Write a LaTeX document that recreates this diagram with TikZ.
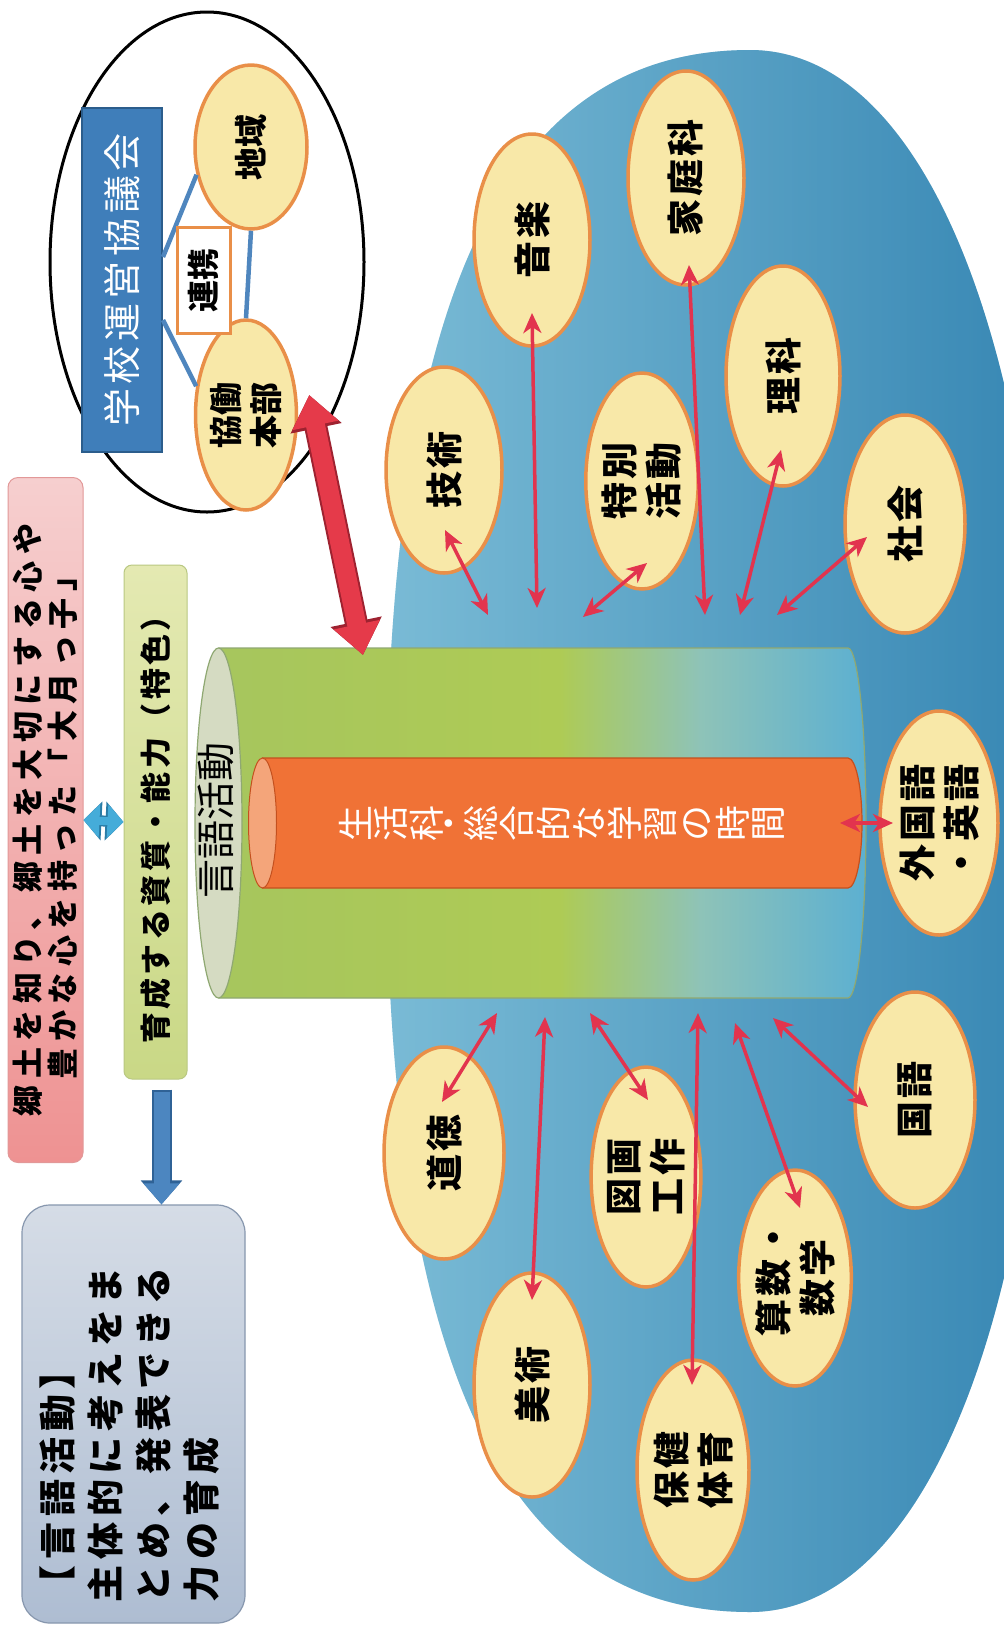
\documentclass[tikz,border=0pt]{standalone}
\usepackage{fontspec}
\newfontfamily\jp{Noto Sans CJK JP}
\usetikzlibrary{shapes.geometric,arrows.meta,calc}
\definecolor{bglight}{HTML}{9AD3E4}
\definecolor{bgdark}{HTML}{3282AF}
\definecolor{bgmid}{HTML}{3F8FBC}
\definecolor{ellF}{HTML}{F8E8A8}
\definecolor{ellD}{HTML}{E98F48}
\definecolor{linkR}{HTML}{E2344E}
\definecolor{bigF}{HTML}{E53A4A}
\definecolor{bigD}{HTML}{9E2230}
\definecolor{boxB}{HTML}{3F7EBA}
\definecolor{boxBD}{HTML}{2B5D8C}
\definecolor{lineB}{HTML}{4F86BE}
\definecolor{pinkL}{HTML}{F6CFCF}
\definecolor{pinkR}{HTML}{EE9292}
\definecolor{pinkD}{HTML}{E29898}
\definecolor{grnL}{HTML}{E4E9B2}
\definecolor{grnR}{HTML}{C9D886}
\definecolor{grnD}{HTML}{B9C882}
\definecolor{gryL}{HTML}{D5DCE6}
\definecolor{gryR}{HTML}{AEBDD2}
\definecolor{gryD}{HTML}{8797AE}
\definecolor{sbL}{HTML}{45ACD9}
\definecolor{sbD}{HTML}{2A7CA6}
\definecolor{dbL}{HTML}{4C86C0}
\definecolor{dbD}{HTML}{2F6296}
\definecolor{cg1}{HTML}{A6C55E}
\definecolor{cg2}{HTML}{AECB55}
\definecolor{cg3}{HTML}{8EC3B8}
\definecolor{cg4}{HTML}{58AED3}
\definecolor{cylD}{HTML}{8FA872}
\definecolor{capF}{HTML}{D5DBC2}
\definecolor{orF}{HTML}{F07236}
\definecolor{orD}{HTML}{C4501E}
\definecolor{orCap}{HTML}{F4A57A}
\begin{document}
\begin{tikzpicture}[x=1pt,y=-1pt,
  subj/.style={ellipse, draw=ellD, line width=3.5pt, fill=ellF, rotate=90, inner sep=0pt, align=center,
               font=\jp\bfseries\fontsize{37}{44}\selectfont\addfontfeatures{LetterSpace=8}},
  link/.style={draw=linkR, line width=3.5pt, {Stealth[length=20pt,width=18pt,inset=6pt]}-{Stealth[length=20pt,width=18pt,inset=6pt]}},
  panel/.style={rotate=90, align=center, inner sep=0pt},
  bline/.style={draw=lineB, line width=4.5pt},
  bigO/.style={draw=bigD, line width=23pt, {Triangle[length=34pt,width=50pt]}-{Triangle[length=34pt,width=50pt]}},
  bigI/.style={draw=bigF, line width=19pt, {Triangle[length=31pt,width=45pt]}-{Triangle[length=31pt,width=45pt]}},
  sbO/.style={draw=sbD, line width=11pt, {Triangle[length=18pt,width=38pt]}-{Triangle[length=18pt,width=38pt]}},
  sbI/.style={draw=sbL, line width=8pt, {Triangle[length=16pt,width=33pt]}-{Triangle[length=16pt,width=33pt]}},
  dbO/.style={draw=dbD, line width=20pt, -{Triangle[length=24pt,width=40pt]}},
  dbI/.style={draw=dbL, line width=16pt, -{Triangle[length=21pt,width=35pt]}},
  field/.style={insert path={(386,830) .. controls (386,300) and (502,50) .. (750,50)
     .. controls (930,50) and (1050,362) .. (1050,830)
     .. controls (1050,1299) and (930,1612) .. (750,1612)
     .. controls (502,1612) and (386,1362) .. (386,830) -- cycle}},
]
\useasboundingbox (0,0) rectangle (1004,1626);
\fill[white] (0,0) rectangle (1004,1626);

% blue field
\begin{scope}
\clip (0,0) rectangle (1004,1626);
\shade[left color=bglight, right color=bgdark, field];
\shade[top color=bgmid, middle color=bglight, bottom color=bgmid, fill opacity=0.35, field];
\end{scope}

% left panel
\node[panel, rounded corners=10pt, draw=pinkD, line width=1pt, top color=pinkL, bottom color=pinkR,
      minimum width=685pt, minimum height=75pt,
      font=\jp\bfseries\fontsize{31}{35}\selectfont\addfontfeatures{LetterSpace=21}] (goal) at (45.5,820)
  {郷土を知り、郷土を大切にする心や\\豊かな心を持った「大月っ子」};
\node[panel, rounded corners=8pt, draw=grnD, line width=1pt, top color=grnL, bottom color=grnR,
      minimum width=514pt, minimum height=63pt,
      font=\jp\bfseries\fontsize{31}{35}\selectfont\addfontfeatures{LetterSpace=11}] (ability) at (155.5,822)
  {育成する資質・能力（特色）};
\node[panel, rounded corners=28pt, draw=gryD, line width=1.2pt, top color=gryL, bottom color=gryR,
      minimum width=418pt, minimum height=223pt] (outcome) at (133.5,1414) {};
\node[panel, align=left, text width=376pt,
      font=\jp\bfseries\fontsize{37}{48}\selectfont\addfontfeatures{LetterSpace=15}] (outcomeText) at (129.5,1414)
  {【言語活動】\\主体的に考えをま\\とめ、発表できる\\力の育成};
\draw[sbO] (goal.south) -- (ability.north);
\draw[sbI] (goal.south) -- (ability.north);
\coordinate (d1) at ([shift={(6,10)}]ability.west);
\draw[dbO] (d1) -- (d1 |- outcome.east);
\draw[dbI] ([yshift=-2pt]d1) -- (d1 |- outcome.east);

% council circle
\node[draw=black, ellipse, line width=3pt, rotate=90, minimum width=500pt, minimum height=314pt] (council) at (207,262) {};
\node[panel, fill=boxB, draw=boxBD, line width=2pt, minimum width=344pt, minimum height=80pt, text=white,
      font=\jp\fontsize{38}{38}\selectfont\addfontfeatures{LetterSpace=12}] (kyogikai) at (122,280) {学校運営協議会};
\node[subj, minimum width=164pt, minimum height=112pt, font=\jp\bfseries\fontsize{33}{40}\selectfont] (chiiki) at (251,147) {地域};
\node[subj, minimum width=190pt, minimum height=96pt, font=\jp\bfseries\fontsize{33}{40}\selectfont] (kyodo) at (246,415) {協働\\本部};
\draw[bline] ([yshift=23pt]kyogikai.south) -- (chiiki.117);
\draw[bline] ([yshift=-40pt]kyogikai.south) -- (kyodo.60);
\draw[bline] (chiiki.west) -- (kyodo.east);
\node[panel, draw=ellD, line width=3pt, fill=white, minimum width=106pt, minimum height=53pt,
      font=\jp\bfseries\fontsize{32}{32}\selectfont] (renkei) at (203.5,280) {連携};

% cylinder
\begin{scope}
\clip (218.5,648) -- (848,648) arc[start angle=-90,end angle=90,x radius=18,y radius=175] -- (218.5,998) -- cycle;
\shade[left color=cg1, right color=cg2] (190,640) rectangle (561,1010);
\shade[left color=cg2, right color=cg3] (560,640) rectangle (701,1010);
\shade[left color=cg3, right color=cg4] (700,640) rectangle (880,1010);
\end{scope}
\draw[cylD, line width=1.2pt] (218.5,648) -- (848,648) arc[start angle=-90,end angle=90,x radius=18,y radius=175] -- (218.5,998);
\filldraw[fill=capF, draw=cylD, line width=1.2pt] (218.5,823) ellipse [x radius=23.5, y radius=175];
\node[panel, font=\jp\fontsize{39}{39}\selectfont] (gengo) at (216,820) {言語活動};
\filldraw[fill=orF, draw=orD, line width=1.2pt] (262.5,758) -- (848,758) arc[start angle=-90,end angle=90,x radius=14,y radius=65] -- (262.5,888) -- cycle;
\filldraw[fill=orCap, draw=orD, line width=1pt] (262.5,823) ellipse [x radius=14, y radius=65];
\foreach \c/\px [count=\i] in {生/355,活/391,科/427,・/454,総/481,合/517,的/553,な/589,学/625,習/661,の/697,時/733,間/769}
  \node[panel, text=white, font=\jp\fontsize{36}{36}\selectfont] (life\i) at (\px,823) {\c};

% subjects
\node[subj, minimum width=206pt, minimum height=116pt] (tech) at (444,470) {技術};
\node[subj, minimum width=212pt, minimum height=116pt] (music) at (532,240) {音楽};
\node[subj, minimum width=214pt, minimum height=116pt] (home) at (686,178) {家庭科};
\node[subj, minimum width=216pt, minimum height=108pt] (special) at (642,481) {特別\\活動};
\node[subj, minimum width=220pt, minimum height=114pt] (sci) at (783,376) {理科};
\node[subj, minimum width=218pt, minimum height=120pt] (social) at (905,524) {社会};
\node[subj, minimum width=224pt, minimum height=118pt] (gaikoku) at (939,823) {外国語\\・英語};
\node[subj, minimum width=216pt, minimum height=120pt] (kokugo) at (915,1100) {国語};
\node[subj, minimum width=212pt, minimum height=120pt] (moral) at (444,1153) {道徳};
\node[subj, minimum width=220pt, minimum height=108pt] (zuga) at (646,1177) {図画\\工作};
\node[subj, minimum width=216pt, minimum height=112pt] (math) at (795,1278) {算数・\\数学};
\node[subj, minimum width=224pt, minimum height=116pt] (art) at (532,1385) {美術};
\node[subj, minimum width=220pt, minimum height=112pt] (pe) at (693,1470) {保健\\体育};

% arrow ends near the cylinder
\coordinate (t1) at (488,615);
\coordinate (t2) at (537,608);
\coordinate (t3) at (583,617);
\coordinate (t4) at (705,615);
\coordinate (t5) at (740,615);
\coordinate (t6) at (777,615);
\coordinate (b1) at (497,1013);
\coordinate (b2) at (545,1017);
\coordinate (b3) at (590,1013);
\coordinate (b4) at (698,1013);
\coordinate (b5) at (735,1023);
\coordinate (b6) at (773,1018);
\coordinate (orEnd) at (840,823);
\coordinate (cylTop) at (363,655);

\draw[link] ([shift={(1,60)}]tech.center) -- (t1);
\draw[link] ([shift={(0,73)}]music.center) -- (t2);
\draw[link] ([shift={(5,82)}]special.center) -- (t3);
\draw[link] ([shift={(3,87)}]home.center) -- (t4);
\draw[link] ([shift={(-2,74)}]sci.center) -- (t5);
\draw[link] ([shift={(-38,13)}]social.center) -- (t6);
\draw[link] ([shift={(-2,-51)}]moral.center) -- (b1);
\draw[link] ([shift={(0,-85)}]art.center) -- (b2);
\draw[link] ([shift={(2,-77)}]zuga.center) -- (b3);
\draw[link] ([shift={(-1,-85)}]pe.center) -- (b4);
\draw[link] ([shift={(5,-70)}]math.center) -- (b5);
\draw[link] ([shift={(-47,7)}]kokugo.center) -- (b6);
\draw[link] (orEnd) -- ([shift={(-46,0)}]gaikoku.center);

% big red arrow
\draw[bigO] ([shift={(11,-20)}]kyodo.south) -- (cylTop);
\draw[bigI] ([shift={(11,-20)}]kyodo.south) -- (cylTop);
\end{tikzpicture}
\end{document}
